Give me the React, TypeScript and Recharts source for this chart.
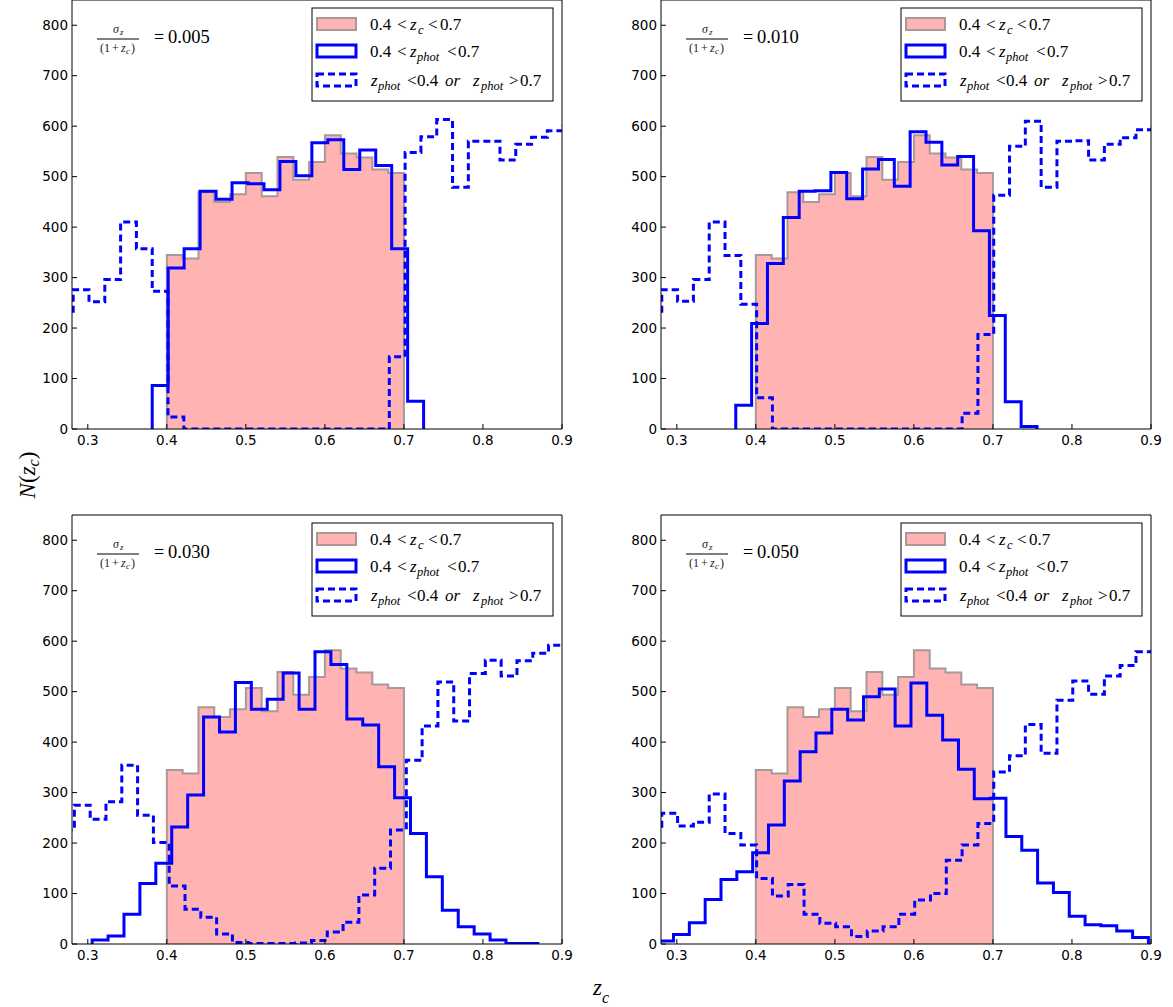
import React from 'react'
import { ComposedChart, Line, Area, XAxis, YAxis } from 'recharts'

const X_TICKS = [0.3, 0.4, 0.5, 0.6, 0.7, 0.8, 0.9]
const Y_TICKS = [0, 100, 200, 300, 400, 500, 600, 700, 800]

// true redshift histogram, 0.4 < z_c < 0.7, bins of 0.02 (same in every panel)
const TRUE_START = 0.4
const TRUE_WIDTH = 0.02
const trueCounts = [345, 338, 469, 450, 465, 507, 461, 539, 494, 529, 582, 546, 538, 514, 507]

// 0.4 < z_phot < 0.7, each panel has its own bin range
const in005 = { start: 0.3815, width: 0.0202, counts: [86, 319, 357, 471, 455, 488, 486, 474, 530, 502, 567, 573, 514, 553, 522, 357, 55] }
const in010 = { start: 0.3746, width: 0.02006, counts: [47, 209, 328, 419, 471, 472, 508, 456, 515, 534, 481, 589, 568, 523, 540, 393, 225, 54, 5] }
const in030 = { start: 0.3055, width: 0.02014, counts: [8, 16, 59, 120, 160, 232, 295, 450, 420, 518, 465, 485, 537, 465, 579, 554, 446, 434, 351, 290, 219, 133, 67, 34, 20, 8, 1, 1] }
const in050 = { start: 0.2758, width: 0.02003, counts: [6, 19, 42, 88, 128, 143, 181, 236, 323, 381, 418, 465, 444, 490, 505, 432, 517, 453, 404, 346, 288, 289, 213, 186, 121, 102, 55, 38, 36, 26, 13] }

// z_phot < 0.4 or z_phot > 0.7, bins of 0.02 from ~0.26
const OUT_WIDTH = 0.02
const out005 = { start: 0.2615, counts: [228, 276, 252, 296, 410, 357, 273, 24, 0, 0, 0, 0, 0, 0, 0, 0, 0, 0, 0, 0, 0, 143, 548, 579, 613, 479, 570, 570, 533, 564, 578, 591, 600] }
const out010 = { start: 0.261, counts: [229, 276, 253, 296, 410, 344, 247, 62, 0, 0, 0, 0, 0, 0, 0, 0, 0, 0, 0, 0, 31, 187, 463, 560, 610, 479, 570, 571, 533, 564, 577, 593, 600] }
const out030 = { start: 0.263, counts: [226, 275, 247, 282, 354, 255, 201, 115, 69, 53, 20, 3, 1, 1, 1, 2, 7, 24, 43, 97, 150, 226, 364, 432, 519, 442, 536, 562, 531, 561, 576, 592, 600] }
const out050 = { start: 0.261, counts: [226, 259, 234, 241, 297, 219, 196, 130, 95, 118, 59, 41, 34, 15, 26, 34, 59, 87, 100, 166, 196, 239, 341, 373, 435, 378, 483, 521, 495, 531, 552, 579, 585] }

const sigmaLabels = ['0.005', '0.010', '0.030', '0.050']

const BLUE = '#0000ff'
const PINK = '#ffb3b3'
const EDGE = '#a89898'
const DASH = '7 4'
const TICK_FONT = { fontSize: 13.5, fill: '#000', fontFamily: "'DejaVu Sans', sans-serif" }
const MATH_FONT = "'Liberation Serif', 'DejaVu Serif', serif"

const PLOT_W = 490
const PLOT_H = 429
const Y_AXIS_W = 50

// outline of a step histogram
function stepPoints(start: number, width: number, counts: number[]) {
  const pts = [{ x: start, y: 0 }]
  counts.forEach((c, i) => pts.push({ x: start + i * width, y: c }))
  const end = start + counts.length * width
  pts.push({ x: end, y: counts[counts.length - 1] })
  pts.push({ x: end, y: 0 })
  return pts
}

function Legend() {
  const t = { fontFamily: MATH_FONT, fontSize: 17, fill: '#000' }
  const sub = { fontFamily: MATH_FONT, fontSize: 12.5, fill: '#000', fontStyle: 'italic' as const }
  const it = { ...t, fontStyle: 'italic' as const }
  return (
    <g>
      <rect x={240} y={8} width={241} height={93} fill="#fff" stroke="#000" strokeWidth={1} />
      <rect x={245} y={18} width={39} height={12} fill={PINK} stroke={EDGE} strokeWidth={2} />
      <rect x={245} y={45} width={39} height={12} fill="#fff" stroke={BLUE} strokeWidth={3} />
      <rect x={245} y={74} width={39} height={12} fill="#fff" stroke={BLUE} strokeWidth={3} strokeDasharray={DASH} />

      <text x={298} y={30} {...t}>0.4</text>
      <text x={325} y={30} {...t}>&lt;</text>
      <text x={338} y={30} {...it}>z</text>
      <text x={346} y={34} {...sub}>c</text>
      <text x={356} y={30} {...t}>&lt;</text>
      <text x={368} y={30} {...t}>0.7</text>

      <text x={298} y={57} {...t}>0.4</text>
      <text x={325} y={57} {...t}>&lt;</text>
      <text x={338} y={57} {...it}>z</text>
      <text x={345} y={61} {...sub}>phot</text>
      <text x={375} y={57} {...t}>&lt;</text>
      <text x={386} y={57} {...t}>0.7</text>

      <text x={299} y={86} {...it}>z</text>
      <text x={306} y={90} {...sub}>phot</text>
      <text x={335} y={86} {...t}>&lt;</text>
      <text x={345} y={86} {...t}>0.4</text>
      <text x={373} y={86} {...it}>or</text>
      <text x={401} y={86} {...it}>z</text>
      <text x={409} y={90} {...sub}>phot</text>
      <text x={437} y={86} {...t}>&gt;</text>
      <text x={448} y={86} {...t}>0.7</text>
    </g>
  )
}

function SigmaNote({ value }: { value: string }) {
  const small = { fontFamily: MATH_FONT, fontSize: 12, fill: '#222' }
  return (
    <g>
      <text x={41} y={33} {...small} fontStyle="italic">σ</text>
      <text x={48} y={35} {...small} fontSize={9} fontStyle="italic">z</text>
      <line x1={25} x2={67} y1={39} y2={39} stroke="#000" strokeWidth={1.2} />
      <text x={28} y={52} {...small}>(1</text>
      <text x={40} y={52} {...small}>+</text>
      <text x={49} y={52} {...small} fontStyle="italic">z</text>
      <text x={54} y={54} {...small} fontSize={9} fontStyle="italic">c</text>
      <text x={59} y={52} {...small}>)</text>
      <text x={82} y={43} fontFamily={MATH_FONT} fontSize={18} fill="#000">=</text>
      <text x={96} y={43} fontFamily={MATH_FONT} fontSize={18.5} fill="#000">{value}</text>
    </g>
  )
}

interface PanelProps {
  left: number
  top: number
  sigma: string
  inner: { start: number; width: number; counts: number[] }
  outer: { start: number; counts: number[] }
}

function Panel({ left, top, sigma, inner, outer }: PanelProps) {
  const truePts = stepPoints(TRUE_START, TRUE_WIDTH, trueCounts)
  const innerPts = stepPoints(inner.start, inner.width, inner.counts)
  const outerPts = stepPoints(outer.start, OUT_WIDTH, outer.counts)
  const chartW = Y_AXIS_W + PLOT_W + 1 + 10
  const chartH = 1 + PLOT_H + 35

  return (
    <div style={{ position: 'absolute', left: left - Y_AXIS_W, top: top - 1 }}>
      <ComposedChart width={chartW} height={chartH} margin={{ top: 0, right: 10, bottom: 0, left: 0 }}>
        <XAxis
          xAxisId="b"
          type="number"
          dataKey="x"
          domain={[0.28, 0.9]}
          ticks={X_TICKS}
          allowDataOverflow
          height={35}
          tickSize={-5}
          tickMargin={11}
          tick={TICK_FONT}
          tickFormatter={(v: number) => v.toFixed(1)}
          stroke="#000"
        />
        <XAxis
          xAxisId="t"
          orientation="top"
          type="number"
          domain={[0.28, 0.9]}
          ticks={X_TICKS}
          allowDataOverflow
          height={1}
          tickSize={-5}
          tick={false}
          stroke="#000"
        />
        <YAxis
          yAxisId="l"
          type="number"
          domain={[0, 850]}
          ticks={Y_TICKS}
          allowDataOverflow
          width={Y_AXIS_W}
          tickSize={-5}
          tickMargin={9}
          tick={TICK_FONT}
          stroke="#000"
        />
        <YAxis
          yAxisId="r"
          orientation="right"
          type="number"
          domain={[0, 850]}
          ticks={Y_TICKS}
          allowDataOverflow
          width={1}
          tickSize={-5}
          tick={false}
          stroke="#000"
        />
        <Area
          xAxisId="b"
          yAxisId="l"
          data={truePts}
          dataKey="y"
          type="stepAfter"
          baseValue={0}
          fill={PINK}
          fillOpacity={1}
          stroke={EDGE}
          strokeWidth={2}
          dot={false}
          activeDot={false}
          isAnimationActive={false}
        />
        <Line
          xAxisId="b"
          yAxisId="l"
          data={innerPts}
          dataKey="y"
          type="stepAfter"
          stroke={BLUE}
          strokeWidth={3}
          strokeLinejoin="miter"
          dot={false}
          activeDot={false}
          isAnimationActive={false}
        />
        <Line
          xAxisId="b"
          yAxisId="l"
          data={outerPts}
          dataKey="y"
          type="stepAfter"
          stroke={BLUE}
          strokeWidth={3}
          strokeDasharray={DASH}
          strokeLinejoin="miter"
          dot={false}
          activeDot={false}
          isAnimationActive={false}
        />
      </ComposedChart>
      <svg
        width={chartW}
        height={chartH}
        style={{ position: 'absolute', left: 0, top: 0, pointerEvents: 'none' }}
      >
        <g transform={`translate(${Y_AXIS_W},1)`}>
          <SigmaNote value={sigma} />
          <Legend />
        </g>
      </svg>
    </div>
  )
}

export default function App() {
  return (
    <div
      style={{
        position: 'absolute',
        left: 0,
        top: 0,
        width: 1173,
        height: 1007,
        background: '#fff',
        overflow: 'hidden'
      }}
    >
      <Panel left={72} top={0} sigma={sigmaLabels[0]} inner={in005} outer={out005} />
      <Panel left={661} top={0} sigma={sigmaLabels[1]} inner={in010} outer={out010} />
      <Panel left={72} top={515} sigma={sigmaLabels[2]} inner={in030} outer={out030} />
      <Panel left={661} top={515} sigma={sigmaLabels[3]} inner={in050} outer={out050} />

      <svg width={1173} height={1007} style={{ position: 'absolute', left: 0, top: 0, pointerEvents: 'none' }}>
        <text transform="translate(35,475) rotate(-90)" textAnchor="middle" fontFamily={MATH_FONT} fontSize={23} fill="#000">
          <tspan fontStyle="italic">N</tspan>
          <tspan>(</tspan>
          <tspan fontStyle="italic">z</tspan>
          <tspan fontStyle="italic" fontSize={16} dy={4}>c</tspan>
          <tspan dy={-4}>)</tspan>
        </text>
        <text x={593} y={995} fontFamily={MATH_FONT} fontSize={23} fill="#000">
          <tspan fontStyle="italic">z</tspan>
          <tspan fontStyle="italic" fontSize={16} dy={8}>c</tspan>
        </text>
      </svg>
    </div>
  )
}
